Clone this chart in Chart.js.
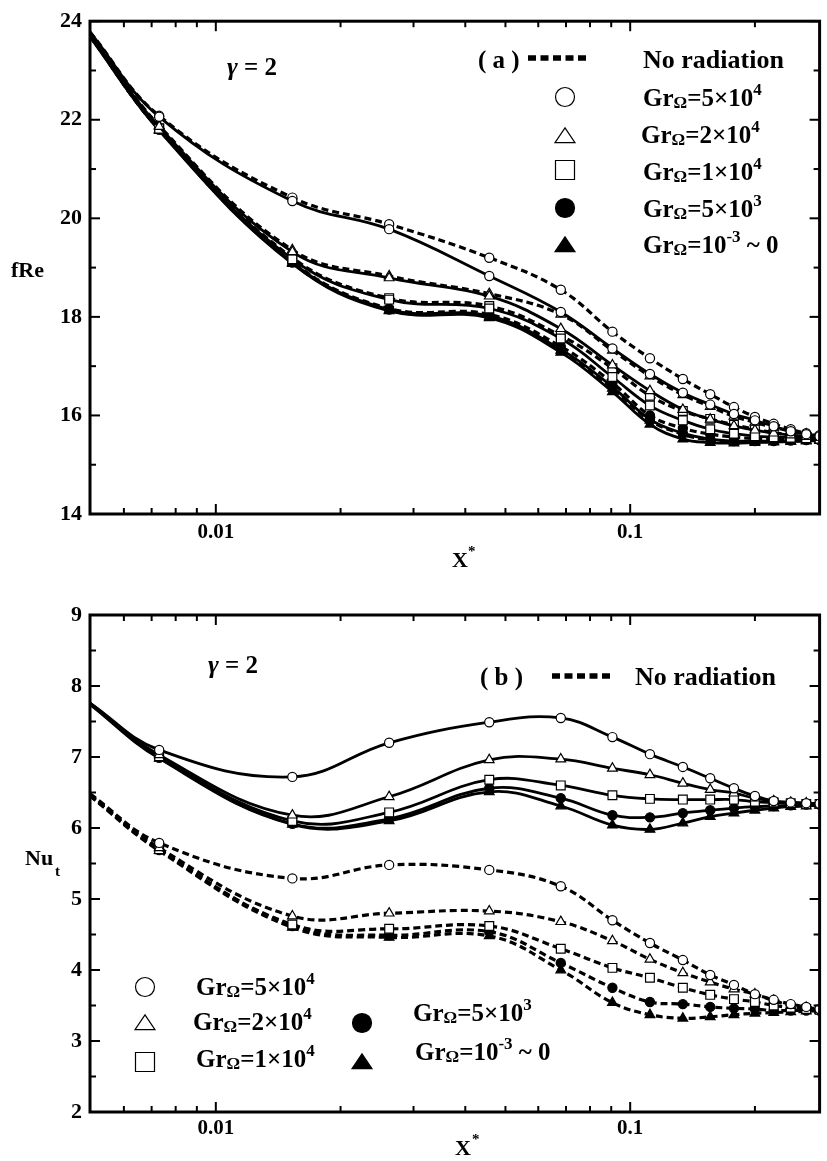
<!DOCTYPE html>
<html><head><meta charset="utf-8">
<script src="https://cdn.jsdelivr.net/npm/chart.js@4/dist/chart.umd.min.js"></script>
<style>
html,body{margin:0;padding:0;background:#fff;}
#wrap{position:relative;width:827px;height:1161px;overflow:hidden;}
canvas{position:absolute;left:0;}
</style></head><body>
<div id="wrap">
<canvas id="ca" width="827" height="580" style="top:0"></canvas>
<canvas id="cb" width="827" height="581" style="top:580px"></canvas>
</div>
<script>
// ---------- data ----------
const X_STAR = [0.00497, 0.0073, 0.0153, 0.0262, 0.0457, 0.068, 0.0906, 0.1116, 0.134, 0.156, 0.178, 0.2, 0.222, 0.244, 0.266, 0.2865];
const X_MAJOR_TICKS = [0.01, 0.1];
const X_MINOR_TICKS = [0.006,0.007,0.008,0.009,0.02,0.03,0.04,0.05,0.06,0.07,0.08,0.09,0.2];
const SERIES_NAMES = ['Gr\u03A9=5\u00D710^4','Gr\u03A9=2\u00D710^4','Gr\u03A9=1\u00D710^4','Gr\u03A9=5\u00D710^3','Gr\u03A9=10^-3 ~ 0'];

// panel (a): fRe
const A_Y_TICKS = [14,16,18,20,22,24];
const A_Y_MINOR = [15,17,19,21,23];
const A_rad_gr5e4  = [23.78,22.06,20.35,19.78,18.83,18.10,17.36,16.84,16.46,16.22,16.03,15.90,15.78,15.68,15.62,15.58];
const A_rad_gr2e4  = [23.75,21.86,19.32,18.79,18.42,17.76,17.02,16.50,16.12,15.92,15.79,15.70,15.64,15.60,15.57,15.55];
const A_rad_gr1e4  = [23.72,21.82,19.17,18.35,18.17,17.56,16.78,16.20,15.90,15.72,15.63,15.58,15.56,15.55,15.54,15.53];
const A_rad_gr5e3  = [23.70,21.80,19.10,18.15,18.02,17.34,16.58,15.92,15.64,15.52,15.48,15.48,15.48,15.49,15.50,15.50];
const A_rad_gr0    = [23.68,21.78,19.08,18.12,17.98,17.28,16.48,15.82,15.52,15.45,15.44,15.45,15.46,15.47,15.48,15.49];
const A_norad_gr5e4= [23.78,22.08,20.42,19.88,19.20,18.55,17.70,17.16,16.74,16.43,16.17,15.97,15.83,15.72,15.64,15.60];
const A_norad_gr2e4= [23.75,21.88,19.36,18.83,18.47,18.05,17.32,16.80,16.42,16.18,15.98,15.86,15.76,15.68,15.62,15.58];
const A_norad_gr1e4= [23.72,21.83,19.20,18.38,18.22,17.62,16.96,16.40,16.09,15.93,15.81,15.72,15.65,15.60,15.57,15.55];
const A_norad_gr5e3= [23.70,21.80,19.12,18.17,18.05,17.40,16.66,16.00,15.74,15.62,15.56,15.53,15.52,15.52,15.52,15.52];
const A_norad_gr0  = [23.70,21.80,19.10,18.14,18.00,17.32,16.55,15.90,15.62,15.50,15.47,15.47,15.47,15.48,15.49,15.50];

// panel (b): Nu_t
const B_Y_TICKS = [2,3,4,5,6,7,8,9];
const B_Y_MINOR = [2.5,3.5,4.5,5.5,6.5,7.5,8.5];
const B_rad_gr5e4  = [7.76,7.10,6.72,7.20,7.49,7.55,7.28,7.04,6.86,6.70,6.56,6.45,6.38,6.36,6.35,6.34];
const B_rad_gr2e4  = [7.76,7.03,6.18,6.44,6.96,6.97,6.84,6.75,6.63,6.54,6.49,6.42,6.38,6.36,6.35,6.34];
const B_rad_gr1e4  = [7.75,7.01,6.10,6.22,6.68,6.60,6.46,6.41,6.40,6.40,6.40,6.37,6.36,6.35,6.34,6.34];
const B_rad_gr5e3  = [7.75,6.99,6.06,6.13,6.56,6.42,6.18,6.15,6.21,6.25,6.28,6.30,6.31,6.32,6.33,6.33];
const B_rad_gr0    = [7.74,6.98,6.05,6.10,6.51,6.31,6.04,5.98,6.07,6.16,6.21,6.25,6.28,6.30,6.31,6.32];
const B_norad_gr5e4= [6.48,5.79,5.29,5.48,5.41,5.18,4.70,4.38,4.14,3.93,3.79,3.66,3.58,3.52,3.48,3.45];
const B_norad_gr2e4= [6.47,5.72,4.76,4.80,4.83,4.68,4.41,4.15,3.96,3.83,3.73,3.66,3.57,3.50,3.47,3.45];
const B_norad_gr1e4= [6.46,5.70,4.64,4.58,4.62,4.30,4.03,3.89,3.75,3.65,3.59,3.55,3.50,3.47,3.45,3.44];
const B_norad_gr5e3= [6.46,5.69,4.62,4.49,4.54,4.10,3.75,3.55,3.52,3.48,3.46,3.45,3.43,3.43,3.43,3.43];
const B_norad_gr0  = [6.45,5.68,4.60,4.46,4.48,4.00,3.54,3.37,3.32,3.34,3.37,3.39,3.40,3.41,3.42,3.43];

// ---------- styling ----------
const SERIF = '"Liberation Serif","Times New Roman",serif';
const MARKERS = [
  {ps:'circle',   fill:'#fff', r:4.6},
  {ps:'triangle', fill:'#fff', r:5.6},
  {ps:'rect',     fill:'#fff', r:6.2},
  {ps:'circle',   fill:'#000', r:4.6},
  {ps:'triangle', fill:'#000', r:5.6}
];

function makeDs(values, m, dashed) {
  return {
    data: X_STAR.map((x, i) => ({x: x, y: values[i]})),
    borderColor: '#000',
    borderWidth: dashed ? 3.2 : 2.8,
    borderDash: dashed ? [7, 4] : [],
    tension: 0.4,
    fill: false,
    pointStyle: m.ps,
    pointRadius: X_STAR.map((_, i) => i === 0 ? 0 : m.r),
    pointBackgroundColor: m.fill,
    pointBorderColor: '#000',
    pointBorderWidth: 1.2
  };
}

function drawMarker(ctx, m, x, y, r) {
  ctx.save();
  ctx.fillStyle = m.fill; ctx.strokeStyle = '#000'; ctx.lineWidth = 1.2; ctx.setLineDash([]);
  ctx.beginPath();
  if (m.ps === 'circle') {
    ctx.arc(x, y, r, 0, Math.PI * 2);
  } else if (m.ps === 'triangle') {
    const h = r * 1.55, w = r * 1.05;
    ctx.moveTo(x, y - h * 0.55); ctx.lineTo(x + w, y + h * 0.45); ctx.lineTo(x - w, y + h * 0.45); ctx.closePath();
  } else {
    ctx.rect(x - r, y - r, 2 * r, 2 * r);
  }
  ctx.fill(); ctx.stroke();
  ctx.restore();
}

function rich(ctx, x, y, parts) {
  let cx = x;
  for (const p of parts) {
    ctx.font = (p.italic ? 'italic ' : '') + 'bold ' + p.size + 'px ' + SERIF;
    ctx.fillText(p.t, cx, y + (p.dy || 0));
    cx += ctx.measureText(p.t).width;
  }
}

function nameParts(name) {
  const m = name.match(/^Gr\u03A9(=[^\^]*)\^(\S+)(.*)$/);
  return [
    {t: 'Gr', size: 25},
    {t: '\u03A9', size: 17, dy: 2},
    {t: m[1], size: 25},
    {t: m[2], size: 17, dy: -11},
    {t: m[3], size: 25}
  ].filter(p => p.t.length);
}

function dashedSample(ctx, x1, x2, y) {
  ctx.save();
  ctx.strokeStyle = '#000'; ctx.lineWidth = 5.5; ctx.setLineDash([8, 4.5]);
  ctx.beginPath(); ctx.moveTo(x1, y); ctx.lineTo(x2, y); ctx.stroke();
  ctx.restore();
}

function framePlugin(yMajor, yMinor, extra) {
  return {
    id: 'frame',
    afterDatasetsDraw(chart) {
      const ctx = chart.ctx, a = chart.chartArea, xs = chart.scales.x, ys = chart.scales.y;
      ctx.save();
      ctx.strokeStyle = '#000';
      ctx.lineWidth = 3;
      ctx.strokeRect(a.left, a.top, a.right - a.left, a.bottom - a.top);
      ctx.lineWidth = 2;
      const seg = (x1, y1, x2, y2) => { ctx.beginPath(); ctx.moveTo(x1, y1); ctx.lineTo(x2, y2); ctx.stroke(); };
      for (const v of X_MAJOR_TICKS) { const p = xs.getPixelForValue(v); seg(p, a.bottom, p, a.bottom - 10); seg(p, a.top, p, a.top + 10); }
      for (const v of X_MINOR_TICKS) { const p = xs.getPixelForValue(v); seg(p, a.bottom, p, a.bottom - 6); seg(p, a.top, p, a.top + 6); }
      for (const v of yMajor) { const p = ys.getPixelForValue(v); seg(a.left, p, a.left + 10, p); seg(a.right, p, a.right - 10, p); }
      for (const v of yMinor) { const p = ys.getPixelForValue(v); seg(a.left, p, a.left + 6, p); seg(a.right, p, a.right - 6, p); }
      ctx.fillStyle = '#000';
      ctx.textBaseline = 'alphabetic';
      ctx.textAlign = 'left';
      extra(ctx);
      ctx.restore();
    }
  };
}

function makeOptions(yMin, yMax, yTicks, padTop, xAxisH, xPad) {
  return {
    responsive: false,
    animation: false,
    events: [],
    layout: {padding: {top: padTop, right: 1, left: 0, bottom: 0}},
    plugins: {legend: {display: false}, tooltip: {enabled: false}},
    scales: {
      x: {
        type: 'logarithmic', min: 0.00497, max: 0.2865,
        grid: {display: false, drawTicks: false}, border: {display: false},
        afterBuildTicks: s => { s.ticks = X_MAJOR_TICKS.map(v => ({value: v})); },
        afterFit: s => { s.height = xAxisH; },
        ticks: {autoSkip: false, maxRotation: 0, padding: xPad, color: '#000',
                font: {family: SERIF, size: 21, weight: 'bold'},
                callback: v => String(v)}
      },
      y: {
        type: 'linear', min: yMin, max: yMax,
        grid: {display: false, drawTicks: false}, border: {display: false},
        afterBuildTicks: s => { s.ticks = yTicks.map(v => ({value: v})); },
        afterFit: s => { s.width = 90; },
        ticks: {padding: 8, color: '#000', font: {family: SERIF, size: 22, weight: 'bold'}}
      }
    }
  };
}

// ---------- panel (a) ----------
const aRad = [A_rad_gr5e4, A_rad_gr2e4, A_rad_gr1e4, A_rad_gr5e3, A_rad_gr0];
const aNo  = [A_norad_gr5e4, A_norad_gr2e4, A_norad_gr1e4, A_norad_gr5e3, A_norad_gr0];
const dsA = [];
aRad.forEach((v, i) => dsA.push(makeDs(v, MARKERS[i], false)));
aNo.forEach((v, i) => dsA.push(makeDs(v, MARKERS[i], true)));

new Chart(document.getElementById('ca'), {
  type: 'line',
  data: {datasets: dsA},
  options: makeOptions(14, 24, A_Y_TICKS, 17, 66, 6),
  plugins: [framePlugin(A_Y_TICKS, A_Y_MINOR, ctx => {
    ctx.font = 'bold 22px ' + SERIF;
    ctx.fillText('fRe', 11, 277);
    ctx.fillText('X', 452, 567);
    ctx.font = 'bold 15px ' + SERIF; ctx.fillText('*', 468, 556);
    rich(ctx, 227, 75, [{t: '\u03B3', size: 26, italic: true}, {t: ' = 2', size: 25}]);
    rich(ctx, 478, 68, [{t: '( a )', size: 25}]);
    dashedSample(ctx, 528, 590, 58);
    rich(ctx, 643, 68, [{t: 'No radiation', size: 26}]);
    const rows = [[97, 106], [136, 143], [170, 180], [208, 217], [245, 253]];
    SERIES_NAMES.forEach((n, i) => {
      drawMarker(ctx, MARKERS[i], 565, rows[i][0], 9.5);
      rich(ctx, i === 1 ? 641 : 643, rows[i][1], nameParts(n));
    });
  })]
});

// ---------- panel (b) ----------
const bRad = [B_rad_gr5e4, B_rad_gr2e4, B_rad_gr1e4, B_rad_gr5e3, B_rad_gr0];
const bNo  = [B_norad_gr5e4, B_norad_gr2e4, B_norad_gr1e4, B_norad_gr5e3, B_norad_gr0];
const dsB = [];
bRad.forEach((v, i) => dsB.push(makeDs(v, MARKERS[i], false)));
bNo.forEach((v, i) => dsB.push(makeDs(v, MARKERS[i], true)));

const OB = 580; // canvas offset of panel (b)
new Chart(document.getElementById('cb'), {
  type: 'line',
  data: {datasets: dsB},
  options: makeOptions(2, 9, B_Y_TICKS, 35, 49, 4),
  plugins: [framePlugin(B_Y_TICKS, B_Y_MINOR, ctx => {
    ctx.font = 'bold 22px ' + SERIF;
    ctx.fillText('Nu', 25, 865 - OB);
    ctx.font = 'bold 15px ' + SERIF; ctx.fillText('t', 55, 876 - OB);
    ctx.font = 'bold 22px ' + SERIF;
    ctx.fillText('X', 455, 1155 - OB);
    ctx.font = 'bold 15px ' + SERIF; ctx.fillText('*', 472, 1144 - OB);
    rich(ctx, 208, 673 - OB, [{t: '\u03B3', size: 26, italic: true}, {t: ' = 2', size: 25}]);
    rich(ctx, 480, 685 - OB, [{t: '( b )', size: 25}]);
    dashedSample(ctx, 552, 612, 676 - OB);
    rich(ctx, 635, 685 - OB, [{t: 'No radiation', size: 26}]);
    const pos = [
      {mx: 145, my: 987, tx: 196, ty: 995},
      {mx: 145, my: 1023, tx: 193, ty: 1030},
      {mx: 145, my: 1062, tx: 196, ty: 1067},
      {mx: 362, my: 1023, tx: 413, ty: 1021},
      {mx: 362, my: 1062, tx: 415, ty: 1060}
    ];
    SERIES_NAMES.forEach((n, i) => {
      const p = pos[i];
      drawMarker(ctx, MARKERS[i], p.mx, p.my - OB, 9.5);
      rich(ctx, p.tx, p.ty - OB, nameParts(n));
    });
  })]
});
</script>
</body></html>
